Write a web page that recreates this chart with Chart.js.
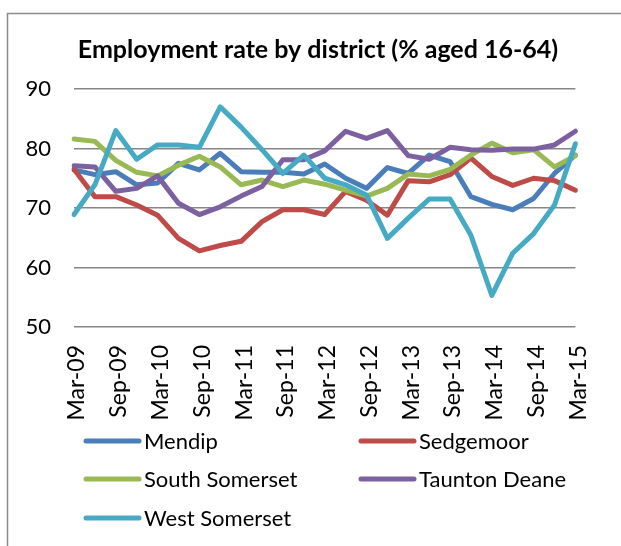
<!DOCTYPE html>
<html>
<head>
<meta charset="utf-8">
<script src="https://cdn.jsdelivr.net/npm/chart.js@4.4.1/dist/chart.umd.min.js"></script>
<style>
    body { margin: 0; background: #fff; }
</style>
</head>
<body>
<canvas id="chart" width="621" height="546"></canvas>
<script>
// quarterly, Mar-09 .. Mar-15
const quarters = [
    'Mar-09', 'Jun-09', 'Sep-09', 'Dec-09',
    'Mar-10', 'Jun-10', 'Sep-10', 'Dec-10',
    'Mar-11', 'Jun-11', 'Sep-11', 'Dec-11',
    'Mar-12', 'Jun-12', 'Sep-12', 'Dec-12',
    'Mar-13', 'Jun-13', 'Sep-13', 'Dec-13',
    'Mar-14', 'Jun-14', 'Sep-14', 'Dec-14',
    'Mar-15'
]

const mendip = [76.4, 75.6, 76.1, 73.9, 74.2, 77.5, 76.4, 79.2, 76.1, 76.0, 76.0, 75.7, 77.4, 75.0, 73.3, 76.8, 75.8, 78.9, 77.8, 71.9, 70.6, 69.7, 71.6, 75.8, 78.9]
const sedgemoor = [76.5, 71.9, 71.9, 70.5, 68.8, 64.9, 62.8, 63.7, 64.4, 67.7, 69.7, 69.7, 68.9, 72.8, 71.3, 68.8, 74.6, 74.4, 75.6, 78.4, 75.3, 73.8, 75.0, 74.6, 73.0]
const southSomerset = [81.6, 81.2, 78.0, 76.0, 75.4, 77.2, 78.7, 76.9, 73.9, 74.7, 73.6, 74.7, 74.0, 73.0, 72.0, 73.3, 75.7, 75.4, 76.5, 78.9, 80.9, 79.3, 79.8, 76.9, 78.8]
const tauntonDeane = [77.1, 76.9, 72.8, 73.3, 75.4, 70.8, 68.9, 70.2, 72.0, 73.6, 78.1, 78.1, 79.6, 82.9, 81.7, 83.0, 78.8, 78.2, 80.2, 79.8, 79.7, 79.9, 79.9, 80.6, 82.9]
const westSomerset = [68.9, 73.9, 83.0, 78.2, 80.6, 80.6, 80.2, 87.0, 83.6, 79.8, 75.8, 78.9, 75.0, 73.9, 72.2, 64.9, 68.3, 71.5, 71.5, 65.4, 55.3, 62.4, 65.7, 70.5, 80.8]

const seriesNames = ['Mendip', 'Sedgemoor', 'South Somerset', 'Taunton Deane', 'West Somerset']
const seriesColors = ['#4a7ebb', '#be4b48', '#98b954', '#7d60a0', '#46aac5']
const seriesData = [mendip, sedgemoor, southSomerset, tauntonDeane, westSomerset]

const chartTitle = 'Employment rate by district (% aged 16-64)'

const FONT = 'Lato, "Open Sans", sans-serif'

let datasets = []
for (let i = 0; i < seriesNames.length; i++) {
    datasets.push({
        label: seriesNames[i],
        data: seriesData[i],
        borderColor: seriesColors[i],
        backgroundColor: seriesColors[i],
        borderWidth: 5,
        borderCapStyle: 'round',
        borderJoinStyle: 'round',
        pointRadius: 0,
        tension: 0,
        order: seriesNames.length - i   // later series drawn on top, like excel
    })
}

// outer frame (only left/top visible) + title
const framePlugin = {
    id: 'frame',
    beforeDraw(chart) {
        let ctx = chart.ctx
        ctx.save()
        ctx.strokeStyle = '#8c8c8c'
        ctx.lineWidth = 1.5
        ctx.strokeRect(7.5, 13.5, 700, 700)
        ctx.restore()
    },
    afterDraw(chart) {
        let ctx = chart.ctx
        ctx.save()
        ctx.font = 'bold 25px ' + FONT
        ctx.textAlign = 'center'
        ctx.textBaseline = 'alphabetic'
        ctx.fillStyle = '#000'
        ctx.fillText(chartTitle, 318, 58)
        ctx.restore()
    }
}

// two column legend under the axis
const legendPlugin = {
    id: 'gridLegend',
    afterDraw(chart) {
        let ctx = chart.ctx
        let cols = [84, 359]
        let rows = [441, 479, 518]
        ctx.save()
        ctx.font = '22px ' + FONT
        ctx.textBaseline = 'middle'
        ctx.fillStyle = '#000'
        chart.data.datasets.forEach((ds, i) => {
            let x = cols[i % 2]
            let y = rows[Math.floor(i / 2)]
            ctx.strokeStyle = ds.borderColor
            ctx.lineWidth = 5
            ctx.lineCap = 'round'
            ctx.beginPath()
            ctx.moveTo(x + 2, y)
            ctx.lineTo(x + 55, y)
            ctx.stroke()
            ctx.fillText(ds.label, x + 60, y + 1)
        })
        ctx.restore()
    }
}

new Chart(document.getElementById('chart').getContext('2d'), {
    type: 'line',
    data: { labels: quarters, datasets },
    options: {
        responsive: false,
        animation: false,
        layout: { padding: { left: 12, right: 22, top: 89, bottom: 110 } },
        plugins: {
            legend: { display: false },
            tooltip: { enabled: false },
            title: { display: false }
        },
        scales: {
            x: {
                offset: false,
                grid: { display: false, drawTicks: false },
                border: { display: false },
                ticks: {
                    autoSkip: false,
                    minRotation: 90,
                    maxRotation: 90,
                    padding: 18,
                    labelOffset: 3,
                    color: '#000',
                    font: { family: FONT, size: 23 },
                    callback: (v, i) => i % 2 === 0 ? quarters[i] : ''
                },
                afterFit: (scale) => { scale.height = 109 }
            },
            y: {
                min: 50,
                max: 90,
                ticks: {
                    stepSize: 10,
                    padding: 23,
                    color: '#000',
                    font: { family: FONT, size: 22 }
                },
                grid: { color: '#868686', lineWidth: 1.5, drawTicks: false },
                border: { display: false },
                afterFit: (scale) => { scale.width = 62 }
            }
        }
    },
    plugins: [framePlugin, legendPlugin]
})
</script>
</body>
</html>
